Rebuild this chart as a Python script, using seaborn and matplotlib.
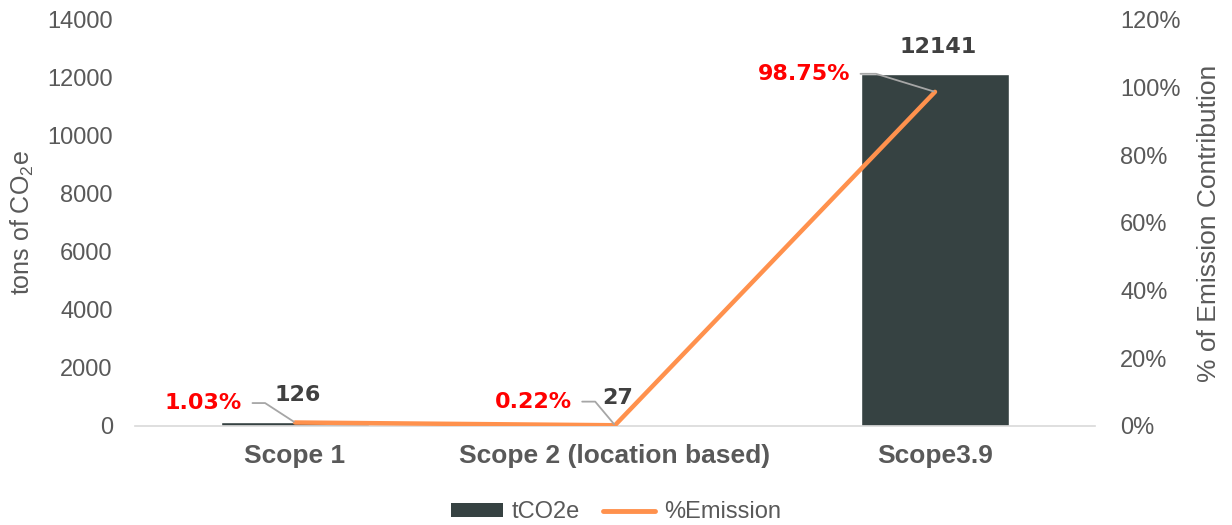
import matplotlib
matplotlib.use("Agg")
import matplotlib.pyplot as plt
import seaborn as sns
import pandas as pd
import numpy as np
from matplotlib.lines import Line2D
from matplotlib.patches import Patch

categories = ["Scope 1", "Scope 2 (location based)", "Scope3.9"]
tco2e = [126, 27, 12141]
pct_emission = [1.03, 0.22, 98.75]

BAR_COLOR = "#364242"
LINE_COLOR = "#FF914D"
TEXT_GRAY = "#595959"
LABEL_DARK = "#404040"
LEADER = "#A6A6A6"

sns.set_theme(style="white")
plt.rcParams["font.family"] = ["Liberation Sans", "DejaVu Sans"]
plt.rcParams["mathtext.default"] = "regular"

df = pd.DataFrame({"category": categories, "tco2e": tco2e, "pct": pct_emission})

fig = plt.figure(figsize=(12.32, 5.25), dpi=100)
ax = fig.add_axes([0.1096, 0.1886, 0.7792, 0.7734])

sns.barplot(data=df, x="category", y="tco2e", color=BAR_COLOR, saturation=1,
            width=0.46, ax=ax)
ax.set_xlim(-0.5, len(categories) - 0.5)
ax.set_ylim(0, 14000)
ax.set_yticks(np.arange(0, 14001, 2000))
ax.set_xlabel("")
ax.set_ylabel("tons of CO$_2$e", fontsize=18, color=TEXT_GRAY, labelpad=8)
ax.tick_params(axis="y", length=0, pad=16, labelsize=17, labelcolor=TEXT_GRAY)
ax.tick_params(axis="x", length=0, pad=13)
for lbl in ax.get_xticklabels():
    lbl.set_fontweight("bold")
    lbl.set_fontsize(19)
    lbl.set_color(TEXT_GRAY)
for s in ["top", "left", "right"]:
    ax.spines[s].set_visible(False)
ax.spines["bottom"].set_color("#D9D9D9")
ax.spines["bottom"].set_linewidth(1.2)

# bar value labels
for i, v in enumerate(tco2e):
    ax.annotate(f"{v}", xy=(i, v), xytext=(2, 15), textcoords="offset points",
                ha="center", va="baseline", fontsize=16, fontweight="bold",
                color=LABEL_DARK, family="DejaVu Sans")

ax2 = ax.twinx()
xpos = np.arange(len(categories))
sns.lineplot(x=xpos, y=df["pct"], color=LINE_COLOR, linewidth=3.2, ax=ax2,
             solid_capstyle="round", solid_joinstyle="round")
ax2.set_ylim(0, 120)
ax2.set_yticks(np.arange(0, 121, 20))
ax2.set_yticklabels([f"{t}%" for t in range(0, 121, 20)])
ax2.set_ylabel("% of Emission Contribution", fontsize=19, color=TEXT_GRAY,
               labelpad=12)
ax2.tick_params(axis="y", length=0, pad=18, labelsize=17, labelcolor=TEXT_GRAY)
for s in ["top", "left", "right", "bottom"]:
    ax2.spines[s].set_visible(False)
ax2.set_xlim(-0.5, len(categories) - 0.5)

# percentage labels with leader lines
pct_offsets = [(-38, 14, 147), (-31, 17, 130), (-61, 13, 163)]
for i, (p, (dx, dy, angb)) in enumerate(zip(pct_emission, pct_offsets)):
    ax2.annotate(f"{p:.2f}%", xy=(i, p), xytext=(dx, dy), textcoords="offset points",
                 ha="right", va="center", fontsize=16, fontweight="bold",
                 color="#FF0000", family="DejaVu Sans",
                 arrowprops=dict(arrowstyle="-", color=LEADER, lw=1.3,
                                 relpos=(1, 0.5), shrinkA=5, shrinkB=1,
                                 connectionstyle=f"angle,angleA=0,angleB={angb},rad=0"))

handles = [Patch(facecolor=BAR_COLOR, edgecolor="none", label="tCO2e"),
           Line2D([0], [0], color=LINE_COLOR, lw=3.5, solid_capstyle="round",
                  label="%Emission")]
fig.legend(handles=handles, loc="lower center", bbox_to_anchor=(0.5, -0.037),
           ncol=2, frameon=False, fontsize=17, labelcolor=TEXT_GRAY,
           handlelength=2.2, handleheight=0.5, columnspacing=1.0, handletextpad=0.35)

fig.savefig("out.png", dpi=100)
